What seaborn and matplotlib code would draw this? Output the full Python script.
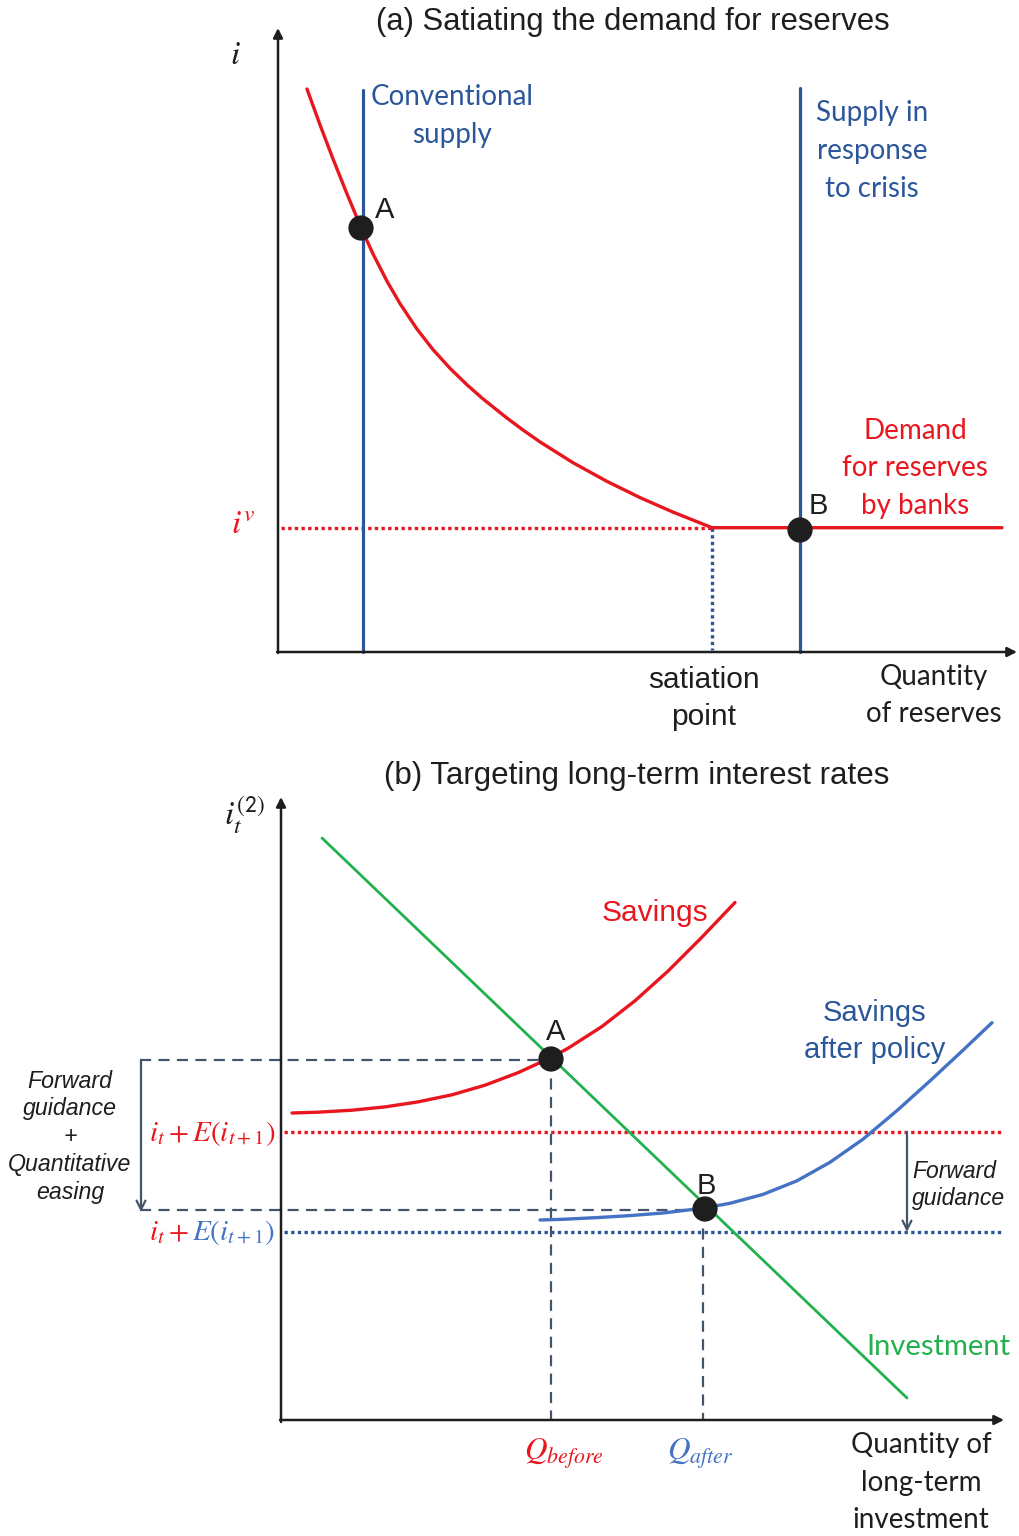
import matplotlib
matplotlib.use("Agg")
import matplotlib.pyplot as plt
import seaborn as sns

sns.set_style("white")
plt.rcParams['font.family'] = ['Liberation Sans', 'DejaVu Sans']
plt.rcParams['mathtext.fontset'] = 'stix'

# diagram units (roughly pixels, y grows downwards)
# panel (a): demand for reserves curve
demand_q = [307, 320, 333, 347, 361, 373, 387, 400, 417, 433, 450, 467, 483, 507, 523,
            540, 573, 607, 640, 673, 712, 1002]
demand_i = [89, 124.8, 158.9, 193.9, 227.5, 253.9, 281.2, 303.6, 329.1, 349.6, 368.3,
            384.8, 398.9, 418.1, 430, 441.9, 462.7, 481.4, 497.6, 512.1, 527.7, 527.7]
conv_supply_q = 363
crisis_supply_q = 800
satiation_q = 712
floor_i = 528
point_a1 = (361, 228)
point_b1 = (800, 530)

# panel (b): savings / investment
savings_q = [292, 318, 352, 385, 418, 452, 485, 518, 550, 568, 602, 635, 668, 702, 735]
savings_i = [1113, 1112.2, 1110.2, 1106.9, 1101.9, 1094.8, 1085.2, 1072.7, 1058, 1048.3,
             1026.5, 1000.8, 971.1, 937.1, 902.5]
after_q = [540, 563, 597, 630, 663, 703, 730, 763, 797, 830, 863, 897, 930, 963, 992]
after_i = [1220, 1219.3, 1217.6, 1215.6, 1213, 1208.2, 1203.3, 1194.4, 1180.8, 1162.3,
           1139.2, 1110.6, 1080.9, 1050.2, 1022.7]
invest_q = [322, 907]
invest_i = [838, 1398]
rate_before = 1132
rate_after = 1232
point_a2 = (551, 1059)
point_b2 = (705, 1209)

RED = '#E8161F'
BLUE = '#2B579A'
LBLUE = '#4472C4'
GREEN = '#22B14C'
SLATE = '#44546A'
BLACK = '#1E1E1E'
CAL = ['Lato', 'DejaVu Sans']

fig = plt.figure(figsize=(10.19, 15.36), dpi=100)
ax = fig.add_axes([0, 0, 1, 1])
ax.set_xlim(0, 1019)
ax.set_ylim(1536, 0)
ax.axis('off')


def arrow(x0, y0, x1, y1, color=BLACK, lw=1.8, style='-|>', ms=14):
    ax.annotate('', xy=(x1, y1), xytext=(x0, y0),
                arrowprops=dict(arrowstyle=style, color=color, lw=lw,
                                mutation_scale=ms, shrinkA=0, shrinkB=0))


def stack(x, y0, lines, dy, **kw):
    for k, s in enumerate(lines):
        ax.text(x, y0 + k * dy, s, ha='center', va='center', **kw)


dot = (0, (1, 1))

# ---------------- panel (a) ----------------
ax.text(633, 22, '(a) Satiating the demand for reserves', ha='center', va='center',
        fontsize=22.4, color=BLACK)
arrow(278, 653, 278, 28)
arrow(277, 652, 1017, 652)
ax.text(235, 55, '$i$', ha='center', va='center', fontsize=24, color=BLACK)
ax.text(243, 526, '$i^v$', ha='center', va='center', fontsize=24, color=RED)

ax.plot([281, satiation_q], [floor_i, floor_i], color=RED, lw=2.4, ls=dot,
        dash_capstyle='butt')
ax.plot([satiation_q, satiation_q], [floor_i, 650], color=BLUE, lw=2.4, ls=dot,
        dash_capstyle='butt')
ax.plot([conv_supply_q, conv_supply_q], [90, 652], color=BLUE, lw=2.3)
ax.plot([crisis_supply_q, crisis_supply_q], [88, 652], color=BLUE, lw=2.3)
sns.lineplot(x=demand_q, y=demand_i, sort=False, estimator=None, color=RED,
             linewidth=2.4, ax=ax)
for p in (point_a1, point_b1):
    sns.scatterplot(x=[p[0]], y=[p[1]], s=330, color=BLACK, edgecolor='none',
                    ax=ax, zorder=5)
ax.text(385, 210, 'A', ha='center', va='center', fontsize=21, color=BLACK)
ax.text(818, 506, 'B', ha='center', va='center', fontsize=21, color=BLACK)

stack(452, 97, ['Conventional', 'supply'], 38, fontsize=20, color=BLUE, family=CAL)
stack(872, 113, ['Supply in', 'response', 'to crisis'], 38, fontsize=20, color=BLUE,
      family=CAL)
stack(915, 431, ['Demand', 'for reserves', 'by banks'], 37.5, fontsize=20, color=RED,
      family=CAL)
stack(704, 680, ['satiation', 'point'], 37, fontsize=21.5, color=BLACK)
stack(934, 677, ['Quantity', 'of reserves'], 37, fontsize=20, color=BLACK, family=CAL)

# ---------------- panel (b) ----------------
ax.text(637, 776, '(b) Targeting long-term interest rates', ha='center', va='center',
        fontsize=22.5, color=BLACK)
arrow(281, 1422, 281, 797)
arrow(280, 1420, 1004, 1420)
ax.text(244, 815, r'$i_t^{\mathsf{(2)}}$', ha='center', va='center', fontsize=24,
        color=BLACK)

ax.plot([284, 1003], [rate_before, rate_before], color=RED, lw=2.4, ls=dot,
        dash_capstyle='butt')
ax.plot([284, 1003], [rate_after, rate_after], color=BLUE, lw=2.4, ls=dot,
        dash_capstyle='butt')

dash = (0, (5, 3.3))
ax.plot([140, point_a2[0]], [1060, 1060], color=SLATE, lw=1.6, ls=dash)
ax.plot([point_a2[0], point_a2[0]], [1060, 1420], color=SLATE, lw=1.6, ls=dash)
ax.plot([140, point_b2[0]], [1210, 1210], color=SLATE, lw=1.6, ls=dash)
ax.plot([703, 703], [1210, 1420], color=SLATE, lw=1.6, ls=dash)

sns.lineplot(x=invest_q, y=invest_i, sort=False, estimator=None, color=GREEN,
             linewidth=2.0, ax=ax)
sns.lineplot(x=savings_q, y=savings_i, sort=False, estimator=None, color=RED,
             linewidth=2.4, ax=ax)
sns.lineplot(x=after_q, y=after_i, sort=False, estimator=None, color=LBLUE,
             linewidth=2.4, ax=ax)
for p in (point_a2, point_b2):
    sns.scatterplot(x=[p[0]], y=[p[1]], s=330, color=BLACK, edgecolor='none',
                    ax=ax, zorder=5)
ax.text(556, 1032, 'A', ha='center', va='center', fontsize=21, color=BLACK)
ax.text(706, 1186, 'B', ha='center', va='center', fontsize=21, color=BLACK)

arrow(141, 1060, 141, 1212, color=SLATE, lw=1.6, style='->', ms=16)
arrow(907, 1132, 907, 1232, color=SLATE, lw=1.6, style='->', ms=16)

ax.text(655, 913, 'Savings', ha='center', va='center', fontsize=21.5, color=RED)
stack(875, 1013, ['Savings', 'after policy'], 37, fontsize=21, color=BLUE)
ax.text(938, 1347, 'Investment', ha='center', va='center', fontsize=21, color=GREEN,
        family=CAL)
stack(70, 1081, ['Forward', 'guidance', '+', 'Quantitative', 'easing'], 27.8,
      fontsize=16.7, color=BLACK, style='italic')
ax.text(912, 1171, 'Forward', ha='left', va='center', fontsize=16.5, color=BLACK,
        style='italic')
ax.text(912, 1199, 'guidance', ha='left', va='center', fontsize=16.5, color=BLACK,
        style='italic')

t1 = ax.text(275, 1141, r'$i_t + E(i_{t+1})$', ha='right', va='baseline',
             fontsize=21, color=RED)
fig.canvas.draw()
r = fig.canvas.get_renderer()
left_px = t1.get_window_extent(r).x0
left = ax.transData.inverted().transform((left_px, 0))[0]
ax.text(left, 1240, r'$i_t +$', ha='left', va='baseline', fontsize=21, color=RED)
ax.text(275, 1240, r'$E(i_{t+1})$', ha='right', va='baseline', fontsize=21, color=LBLUE)

ax.text(564, 1455, r'$Q_{before}$', ha='center', va='center', fontsize=22.5, color=RED)
ax.text(700, 1455, r'$Q_{after}$', ha='center', va='center', fontsize=22.5, color=LBLUE)
stack(921, 1445, ['Quantity of', 'long-term', 'investment'], 37.5, fontsize=20,
      color=BLACK, family=CAL)

fig.savefig('out.png', dpi=100)
